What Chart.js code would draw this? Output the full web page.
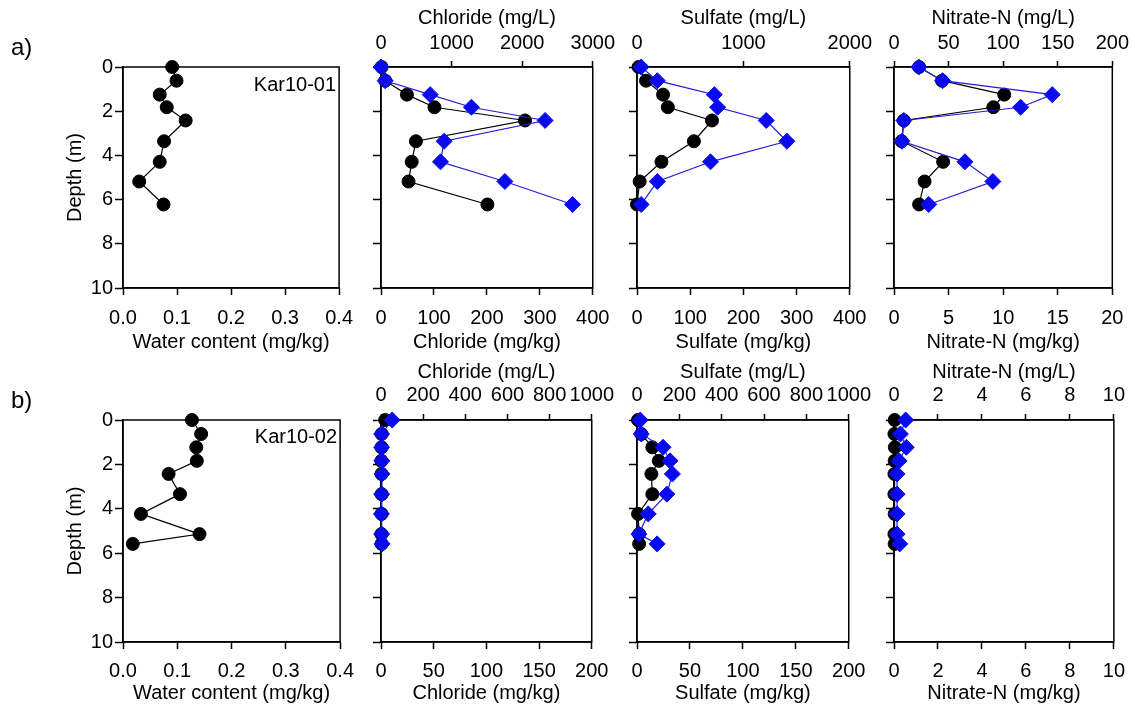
<!DOCTYPE html>
<html>
<head>
<meta charset="utf-8">
<script src="https://cdn.jsdelivr.net/npm/chart.js@4.4.1/dist/chart.umd.min.js"></script>
<style>
  html, body { margin: 0; padding: 0; background: #fff; overflow: hidden; }
  #fig { position: relative; width: 1135px; height: 710px; }
  #fig canvas { position: absolute; }
</style>
</head>
<body>
<div id="fig"></div>
<script>
// sample depths (m)
const depthA = [0, 0.62, 1.25, 1.82, 2.42, 3.36, 4.29, 5.18, 6.22];
const depthB = [0, 0.63, 1.23, 1.84, 2.43, 3.34, 4.23, 5.14, 5.58];

// Kar10-01
const waterA = [0.091, 0.099, 0.068, 0.081, 0.116, 0.076, 0.068, 0.030, 0.075];
const chlorideKgA = [1, 8, 49, 101, 272, 66, 58, 52, 201];
const chlorideLA = [0, 59, 697, 1281, 2325, 894, 843, 1755, 2713];
const sulfateKgA = [3, 17, 49, 58, 141, 107, 46, 5, 0];
const sulfateLA = [39, 191, 727, 758, 1215, 1409, 691, 191, 39];
const nitrateKgA = [2.3, 4.4, 10.1, 9.1, 0.9, 0.7, 4.5, 2.8, 2.3];
const nitrateLA = [22.7, 44.5, 145, 116, 9, 7.3, 65, 90.6, 31.8];

// Kar10-02
const waterB = [0.127, 0.144, 0.135, 0.136, 0.084, 0.105, 0.033, 0.141, 0.018];
const chlorideKgB = [4, 0.6, 0.5, 0.4, 0.5, 0.6, 0.5, 0.4, 0.6];
const chlorideLB = [53, 3, 3, 4, 5, 3, 2, 3, 5];
const sulfateKgB = [1, 4, 14.5, 20.6, 13.6, 14.5, 1, 2, 2];
const sulfateLB = [15, 20, 123, 156, 167, 141, 53, 9, 95];
const nitrateKgB = [0.03, 0.02, 0.04, 0.03, 0.02, 0.02, 0.03, 0.02, 0.03];
const nitrateLB = [0.53, 0.29, 0.56, 0.23, 0.14, 0.14, 0.14, 0.14, 0.26];

// tick labels
const depthTicks = [0, 2, 4, 6, 8, 10];
const waterTicks = [0, 0.1, 0.2, 0.3, 0.4];
const chlorideKgTicksA = [0, 100, 200, 300, 400];
const chlorideLTicksA = [0, 1000, 2000, 3000];
const sulfateKgTicksA = [0, 100, 200, 300, 400];
const sulfateLTicksA = [0, 1000, 2000];
const nitrateKgTicksA = [0, 5, 10, 15, 20];
const nitrateLTicksA = [0, 50, 100, 150, 200];
const chlorideKgTicksB = [0, 50, 100, 150, 200];
const chlorideLTicksB = [0, 200, 400, 600, 800, 1000];
const sulfateKgTicksB = [0, 50, 100, 150, 200];
const sulfateLTicksB = [0, 200, 400, 600, 800, 1000];
const nitrateKgTicksB = [0, 2, 4, 6, 8, 10];
const nitrateLTicksB = [0, 2, 4, 6, 8, 10];

Chart.defaults.font.family = "'Liberation Sans', Arial, sans-serif";
Chart.defaults.font.size = 20;
Chart.defaults.color = '#000';

const rowA = { top: 0, topBox: 67, botBox: 67, botPad: 11, topPad: 6, botTitlePad: 1, topTitlePad: 6,
               letter: 'a)', letterY: 48, site: 'Kar10-01', siteY: 18, depth: depthA };
const rowB = { top: 355, topBox: 65, botBox: 68, botPad: 10, topPad: 7, botTitlePad: 5, topTitlePad: 5,
               letter: 'b)', letterY: 46, site: 'Kar10-02', siteY: 17, depth: depthB };

const cols = [
  { left: 0, w: 364, padL: 50, yW: 73 },
  { left: 356, w: 265, padL: 17, yW: 8 },
  { left: 612, w: 266, padL: 17, yW: 8 },
  { left: 869, w: 266, padL: 17, yW: 8 }
];

function pts(xs, ds) {
  return xs.map((x, i) => ({ x: x, y: ds[i] }));
}

function xScale(ticks, title, pos, row, fmt) {
  const isTop = pos === 'top';
  return {
    type: 'linear',
    position: pos,
    min: ticks[0],
    max: ticks[ticks.length - 1],
    afterBuildTicks: s => { s.ticks = ticks.map(v => ({ value: v })); },
    ticks: {
      autoSkip: false, maxRotation: 0, minRotation: 0,
      padding: isTop ? row.topPad : row.botPad,
      callback: fmt || (v => String(v))
    },
    grid: { drawOnChartArea: false, drawTicks: true, tickLength: isTop ? 6 : 7, tickWidth: 1.5, tickColor: '#000' },
    border: { display: true, color: '#000', width: 1.5 },
    title: {
      display: true, text: title,
      padding: isTop ? { top: row.topTitlePad, bottom: 0 } : { top: 0, bottom: row.botTitlePad }
    },
    afterFit: s => { s.height = isTop ? row.topBox : row.botBox; }
  };
}

const framePlugin = {
  id: 'frame',
  beforeDatasetsDraw(chart) {
    const { ctx, chartArea: a } = chart;
    ctx.save();
    ctx.strokeStyle = '#000';
    ctx.lineWidth = 1.5;
    ctx.strokeRect(a.left, a.top, a.right - a.left, a.bottom - a.top);
    ctx.restore();
  }
};

function makePanel(row, ci, black, blue, kgTicks, lTicks, name, fmt) {
  const col = cols[ci];
  const cv = document.createElement('canvas');
  cv.width = col.w;
  cv.height = 355;
  cv.style.left = col.left + 'px';
  cv.style.top = row.top + 'px';
  document.getElementById('fig').appendChild(cv);

  const datasets = [];
  if (blue) {
    datasets.push({
      data: pts(blue, row.depth), xAxisID: 'x2', yAxisID: 'y', showLine: true, clip: false,
      borderColor: '#2020d0', borderWidth: 1.2,
      pointStyle: 'rectRot', pointRadius: 8, pointBackgroundColor: '#0a0af0', pointBorderColor: '#0a0af0', pointBorderWidth: 1
    });
  }
  datasets.push({
    data: pts(black, row.depth), xAxisID: 'x', yAxisID: 'y', showLine: true, clip: false,
    borderColor: '#000', borderWidth: 1.2,
    pointStyle: 'circle', pointRadius: 6.5, pointBackgroundColor: '#000', pointBorderColor: '#000', pointBorderWidth: 1
  });

  const first = ci === 0;
  const scales = {
    x: xScale(kgTicks, name + ' (mg/kg)', 'bottom', row, fmt),
    y: {
      type: 'linear', position: 'left', reverse: true, min: 0, max: 10,
      afterBuildTicks: s => { s.ticks = depthTicks.map(v => ({ value: v })); },
      ticks: { display: first, padding: 2 },
      grid: { drawOnChartArea: false, drawTicks: true, tickLength: 8, tickWidth: 1.5, tickColor: '#000' },
      border: { display: true, color: '#000', width: 1.5 },
      title: { display: first, text: 'Depth (m)', padding: { top: 13, bottom: 0 } },
      afterFit: s => { s.width = col.yW; }
    }
  };
  if (lTicks) scales.x2 = xScale(lTicks, name + ' (mg/L)', 'top', row);

  const plugins = [framePlugin];
  if (first) {
    plugins.push({
      id: 'labels',
      afterDraw(chart) {
        const { ctx, chartArea: a } = chart;
        ctx.save();
        ctx.fillStyle = '#000';
        ctx.textBaseline = 'middle';
        ctx.font = "24px 'Liberation Sans', Arial, sans-serif";
        ctx.textAlign = 'left';
        ctx.fillText(row.letter, 11, row.letterY);
        ctx.font = "20px 'Liberation Sans', Arial, sans-serif";
        ctx.textAlign = 'right';
        ctx.fillText(row.site, a.right - 3, a.top + row.siteY);
        ctx.restore();
      }
    });
  }

  new Chart(cv, {
    type: 'scatter',
    data: { datasets: datasets },
    options: {
      responsive: false,
      animation: false,
      layout: { padding: { left: col.padL, right: 21, top: first ? row.topBox : 0, bottom: 0 } },
      plugins: { legend: { display: false }, tooltip: { enabled: false } },
      scales: scales
    },
    plugins: plugins
  });
}

// row a
makePanel(rowA, 0, waterA, null, waterTicks, null, 'Water content', v => v.toFixed(1));
makePanel(rowA, 1, chlorideKgA, chlorideLA, chlorideKgTicksA, chlorideLTicksA, 'Chloride');
makePanel(rowA, 2, sulfateKgA, sulfateLA, sulfateKgTicksA, sulfateLTicksA, 'Sulfate');
makePanel(rowA, 3, nitrateKgA, nitrateLA, nitrateKgTicksA, nitrateLTicksA, 'Nitrate-N');

// row b
makePanel(rowB, 0, waterB, null, waterTicks, null, 'Water content', v => v.toFixed(1));
makePanel(rowB, 1, chlorideKgB, chlorideLB, chlorideKgTicksB, chlorideLTicksB, 'Chloride');
makePanel(rowB, 2, sulfateKgB, sulfateLB, sulfateKgTicksB, sulfateLTicksB, 'Sulfate');
makePanel(rowB, 3, nitrateKgB, nitrateLB, nitrateKgTicksB, nitrateLTicksB, 'Nitrate-N');
</script>
</body>
</html>
